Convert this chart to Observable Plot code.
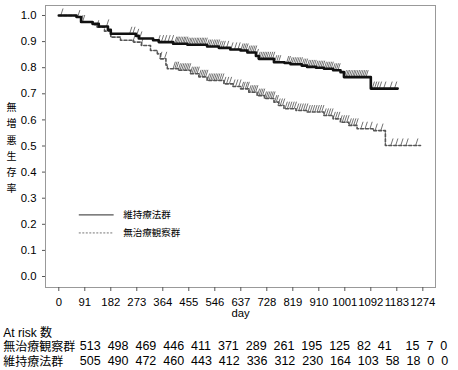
<!DOCTYPE html>
<html><head><meta charset="utf-8">
<script src="https://cdn.jsdelivr.net/npm/d3@7"></script>
<script src="https://cdn.jsdelivr.net/npm/@observablehq/plot@0.6"></script>
<style>
html,body{margin:0;padding:0;background:#fff;}
body{width:458px;height:370px;overflow:hidden;font-family:"Liberation Sans",Arial,sans-serif;color:#000;}
#chart svg{display:block;}
#risk{position:relative;padding-top:4.6px;}
.row{position:relative;height:14.7px;line-height:14.7px;white-space:pre;}
.lab{position:absolute;left:3.3px;top:0;font-family:"Noto Sans CJK JP",sans-serif;font-size:12px;}
.num{position:absolute;left:79.85px;top:0;font-family:"Liberation Sans",Arial,sans-serif;font-size:12.5px;}
.cjk{font-family:"Noto Sans CJK JP",sans-serif;}
</style>
</head><body>
<div id="chart"></div>
<div id="risk"></div>
<script>
// ---- data ----
const groups = ["維持療法群", "無治療観察群"];
const yLabel = "無増悪生存率";
const xLabel = "day";

// 維持療法群 (solid) Kaplan-Meier steps
const maintDays = [0, 62, 78, 118, 140, 172, 182, 270, 280, 330, 350, 400, 450, 519, 560, 600, 636, 660, 690, 700, 753, 790, 811, 850, 869, 900, 928, 960, 986, 998, 1092, 1186];
const maintSurv = [1.000, 0.994, 0.975, 0.968, 0.958, 0.945, 0.930, 0.922, 0.912, 0.905, 0.898, 0.892, 0.888, 0.881, 0.876, 0.870, 0.866, 0.858, 0.845, 0.834, 0.821, 0.818, 0.813, 0.808, 0.803, 0.800, 0.796, 0.790, 0.783, 0.764, 0.720, 0.720];

// 無治療観察群 (dashed) Kaplan-Meier steps
const obsDays = [0, 62, 78, 120, 135, 160, 182, 216, 262, 290, 321, 345, 356, 375, 380, 420, 461, 490, 519, 578, 610, 636, 665, 694, 720, 753, 770, 788, 830, 869, 928, 960, 986, 1015, 1044, 1100, 1143, 1266];
const obsSurv = [1.000, 0.994, 0.975, 0.965, 0.955, 0.940, 0.917, 0.905, 0.898, 0.885, 0.866, 0.853, 0.834, 0.810, 0.796, 0.790, 0.777, 0.765, 0.751, 0.738, 0.728, 0.719, 0.706, 0.693, 0.682, 0.668, 0.655, 0.643, 0.636, 0.630, 0.617, 0.604, 0.591, 0.579, 0.566, 0.559, 0.502, 0.502];

// censoring times
const maintCensor = [10, 69, 80, 86, 170, 251, 262, 275, 286, 350, 362, 373, 385, 397,
  408, 413, 418, 424, 430, 436, 441, 447, 452, 458, 463, 469, 475, 481, 486, 492, 498, 503, 509, 515, 521, 527, 533, 540, 546, 552, 558, 564, 571, 578,
  590, 605, 618, 630,
  640, 646, 652, 658, 664, 670, 676, 682, 688, 694, 700, 706, 712, 718, 724, 730, 737, 744, 751, 758, 765, 772,
  800, 806, 812, 818, 824, 830, 836, 842, 848, 854, 860, 866, 872, 878, 884, 890, 896, 902, 908, 914, 920, 926, 932, 938, 944, 950, 956, 962, 968, 974, 980,
  1002, 1008, 1013, 1019, 1025, 1031, 1036, 1042, 1048, 1054, 1060, 1066, 1072, 1078,
  1100, 1108, 1116, 1125, 1140, 1162, 1178];
const obsCensor = [135, 262, 290, 356, 373,
  403, 409, 415, 421, 427, 433, 439, 445, 451, 457, 463, 469, 475, 481, 487, 493, 499, 505, 511, 517, 523, 529, 535, 541, 547, 553, 559, 566, 573, 580,
  590, 600, 612, 622, 633, 642, 648, 656, 662, 668, 674, 680, 686, 692, 698, 704, 710, 716, 722, 728, 734, 740, 746, 752, 758, 764, 770, 778, 786,
  795, 803, 811, 819, 827, 835, 843, 851, 859, 867, 875, 883, 891, 899, 907, 915, 923, 931, 939, 947, 955, 963, 971, 979, 987, 995, 1003, 1011, 1019, 1027, 1035, 1043,
  1060, 1075, 1092, 1110, 1130, 1165, 1182, 1200, 1218, 1252];

const xTicks = [0, 91, 182, 273, 364, 455, 546, 637, 728, 819, 910, 1001, 1092, 1183, 1274];
const yTicks = [0, 0.1, 0.2, 0.3, 0.4, 0.5, 0.6, 0.7, 0.8, 0.9, 1.0];

// at-risk table
const riskTitle = "At risk 数";
const riskLabels = ["無治療観察群", "維持療法群"];
const riskObs = [513, 498, 469, 446, 411, 371, 289, 261, 195, 125, 82, 41, 15, 7, 0];
const riskMaint = [505, 490, 472, 460, 443, 412, 336, 312, 230, 164, 103, 58, 18, 0, 0];

// ---- build ----
function steps(days, surv, group) {
  return days.map((d, i) => ({day: d, surv: surv[i], group}));
}
function survAt(days, surv, t) {
  let s = surv[0];
  for (let i = 0; i < days.length; i++) if (days[i] <= t) s = surv[i];
  return s;
}
const maintLine = steps(maintDays, maintSurv, groups[0]);
const obsLine = steps(obsDays, obsSurv, groups[1]);
const censorRows = [
  ...maintCensor.map(t => ({day: t, surv: survAt(maintDays, maintSurv, t)})),
  ...obsCensor.map(t => ({day: t, surv: survAt(obsDays, obsSurv, t)}))
];

const slash = {draw(ctx) { ctx.moveTo(-0.9, 0); ctx.lineTo(1.4, -7); }};

// legend layout (in scale units)
const legendRows = [
  {label: groups[0], y: 0.236, dash: null, w: 1.2, c: "#555"},
  {label: groups[1], y: 0.167, dash: "2,1.5", w: 0.9, c: "#666"}
];
const legendX1 = 70, legendX2 = 192;

const chart = Plot.plot({
  width: 458,
  height: 320,
  marginLeft: 45,
  marginRight: 23,
  marginTop: 5,
  marginBottom: 33,
  style: {fontFamily: "'Liberation Sans', Arial, sans-serif", fontSize: "11.3px", background: "#fff", color: "#000"},
  x: {domain: [-46.5, 1318.4]},
  y: {domain: [-0.0421, 1.0383]},
  marks: [
    Plot.frame({stroke: "#999", strokeWidth: 1}),
    Plot.axisX({ticks: xTicks, tickSize: 4, tickPadding: 6, label: null, stroke: "#555", fill: "#000", tickFormat: d => String(d)}),
    Plot.axisY({ticks: yTicks, tickSize: 3, tickPadding: 6, label: null, stroke: "#555", fill: "#000", tickFormat: d3.format(".1f")}),
    Plot.text([xLabel], {frameAnchor: "bottom", lineAnchor: "middle", dy: 25.6, text: d => d, fontSize: 11.3}),
    Plot.text([yLabel], {frameAnchor: "left", dx: -34, text: d => d.split("").join("\n"), lineHeight: 1.62, fontSize: 10, fontFamily: "'Noto Sans CJK JP', sans-serif", textAnchor: "middle"}),
    Plot.dot(censorRows, {x: "day", y: "surv", symbol: slash, stroke: "#5a5a5a", strokeWidth: 0.85, fill: "none"}),
    Plot.line(obsLine, {x: "day", y: "surv", curve: "step-after", stroke: "#555", strokeWidth: 1.6, strokeDasharray: "3,2"}),
    Plot.line(maintLine, {x: "day", y: "surv", curve: "step-after", stroke: "#111", strokeWidth: 2.6}),
    Plot.link(legendRows, {x1: () => legendX1, x2: () => legendX2, y1: "y", y2: "y", stroke: d => d.c, strokeWidth: 1.2}),
    Plot.text(legendRows, {x: () => legendX2, y: "y", text: "label", dx: 9.5, textAnchor: "start", fontSize: 9.5, fontFamily: "'Noto Sans CJK JP', sans-serif"})
  ]
});
// Apply per-row dash to legend links
chart.querySelectorAll("g[aria-label='link'] path").forEach((p, i) => {
  if (legendRows[i].dash) { p.setAttribute("stroke-dasharray", legendRows[i].dash); p.setAttribute("stroke-width", legendRows[i].w); }
});
document.getElementById("chart").appendChild(chart);

// at-risk rows
const risk = document.getElementById("risk");
const extraGap = [[12], []];
function rowText(vals, r) {
  return vals.map((v, i) => (i === 0 ? "" : (extraGap[r].includes(i) ? "    " : "  ")) + v).join("");
}
const t = document.createElement("div"); t.className = "row";
t.innerHTML = `<span class="lab" style="font-family:'Liberation Sans',Arial,sans-serif">${riskTitle.replace("数", '<span class="cjk">数</span>')}</span>`;
risk.appendChild(t);
[riskObs, riskMaint].forEach((vals, r) => {
  const d = document.createElement("div"); d.className = "row";
  const l = document.createElement("span"); l.className = "lab"; l.textContent = riskLabels[r];
  const n = document.createElement("span"); n.className = "num"; n.textContent = rowText(vals, r);
  d.appendChild(l); d.appendChild(n); risk.appendChild(d);
});
</script>
</body></html>
